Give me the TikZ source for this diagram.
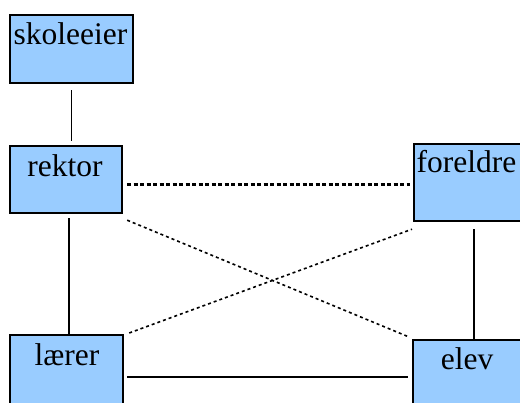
\documentclass[tikz,border=0pt]{standalone}
\usepackage{fontspec}
\setmainfont{Liberation Serif}
\definecolor{boxblue}{HTML}{99CCFF}
\begin{document}
\begin{tikzpicture}[x=1pt,y=-1pt,
  box/.style={draw=black, line width=2.2pt, fill=boxblue, inner sep=0pt, anchor=north west},
  lbl/.style={anchor=base, inner sep=0pt, font=\fontsize{31.5}{31.5}\selectfont},
  solidline/.style={line width=1.5pt},
  thickdot/.style={line width=3pt, dash pattern=on 4pt off 2.5pt},
  thindot/.style={line width=1.6pt, dash pattern=on 3pt off 3pt}]
\useasboundingbox (0,0) rectangle (520,403);
\clip (0,0) rectangle (520,403);
% boxes
\node[box, minimum width=123pt, minimum height=68pt] (skoleeier) at (9,14) {};
\node[box, minimum width=112pt, minimum height=67pt] (rektor) at (9,145) {};
\node[box, minimum width=120pt, minimum height=77pt] (foreldre) at (413,143) {};
\node[box, minimum width=113pt, minimum height=84pt] (laerer) at (9,334) {};
\node[box, minimum width=122pt, minimum height=80pt] (elev) at (412,339) {};
% labels
\node[lbl] (t1) at (70.5,45) {skoleeier};
\node[lbl] (t2) at (65,177) {rektor};
\node[lbl] (t3) at (466.5,173) {foreldre};
\node[lbl] (t4) at (67,366) {lærer};
\node[lbl] (t5) at (467,370) {elev};
% connectors
\draw[solidline] ([yshift=-6pt]skoleeier.south) -- ([yshift=4pt]skoleeier.south |- rektor.north);
\draw[solidline] ([xshift=3pt,yshift=-4pt]rektor.south) -- ([xshift=3pt]rektor.south |- laerer.north);
\draw[thickdot] ([xshift=4pt,yshift=-4.5pt]rektor.east) -- ([xshift=-3pt,yshift=-4.5pt]rektor.east -| foreldre.west);
\draw[solidline] ([yshift=-7pt]foreldre.south) -- (foreldre.south |- elev.north);
\draw[solidline] ([xshift=3pt]laerer.east) -- ([xshift=-4pt]laerer.east -| elev.west);
\draw[thindot] ([xshift=4pt,yshift=-6pt]rektor.south east) -- ([xshift=-3pt,yshift=2pt]elev.north west);
\draw[thindot] ([xshift=5pt,yshift=1pt]laerer.north east) -- ([xshift=-1pt,yshift=-7pt]foreldre.south west);
\end{tikzpicture}
\end{document}
